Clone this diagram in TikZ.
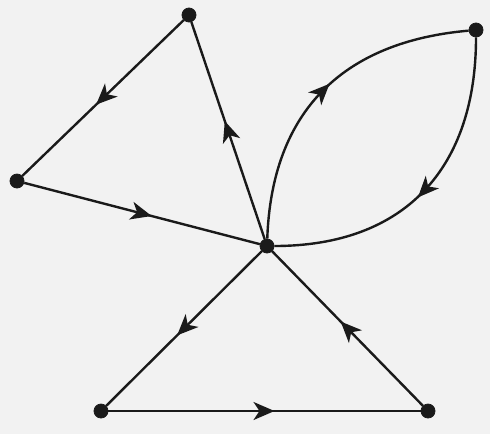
\documentclass[tikz,border=0pt]{standalone}
\usepackage{tikz}
\usetikzlibrary{arrows.meta,decorations.markings}
\definecolor{paper}{HTML}{F2F2F2}
\definecolor{graphink}{HTML}{1A1A1A}

\begin{document}
\begin{tikzpicture}[
  x=0.5pt,y=-0.5pt,
  vertex/.style={circle,fill=graphink,draw=graphink,inner sep=0pt,minimum size=7pt},
  flow/.style={draw=graphink,line width=1.2pt,postaction={decorate},
    decoration={markings,mark=at position 0.5 with {\arrow[xshift=5pt]{Stealth[length=10.5pt,width=9pt,inset=3pt]}}}}
]
\fill[paper] (0,0) rectangle (490,434);
\useasboundingbox (0,0) rectangle (490,434);

\node[vertex] (top) at (189,15) {};
\node[vertex] (left) at (17,181) {};
\node[vertex] (hub) at (267,246) {};
\node[vertex] (far) at (476,30) {};
\node[vertex] (lowl) at (101,411) {};
\node[vertex] (lowr) at (428,411) {};

\draw[flow] (top) -- (left);
\draw[flow] (left) -- (hub);
\draw[flow] (hub) -- (top);
\draw[flow] (hub) to[out=88,in=185,looseness=1.12] (far);
\draw[flow] (far) to[out=270,in=0,looseness=1.15] (hub);
\draw[flow] (hub) -- (lowl);
\draw[flow] (lowl) -- (lowr);
\draw[flow] (lowr) -- (hub);
\end{tikzpicture}
\end{document}
